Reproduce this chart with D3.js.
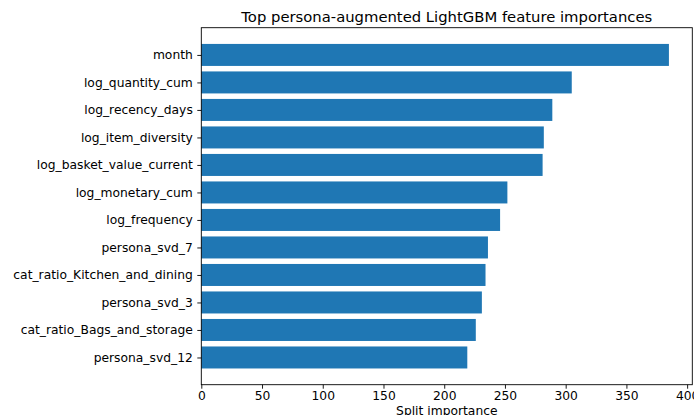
<!DOCTYPE html>
<html>
<head>
<meta charset="utf-8">
<script src="https://cdn.jsdelivr.net/npm/d3@7"></script>
<style>
  html, body { margin: 0; padding: 0; background: #fff; }
  svg { display: block; font-family: "DejaVu Sans", sans-serif; }
</style>
</head>
<body>
<svg id="chart" width="694" height="415"></svg>
<script>
// Feature names, from most to least important
const features = [
  "month",
  "log_quantity_cum",
  "log_recency_days",
  "log_item_diversity",
  "log_basket_value_current",
  "log_monetary_cum",
  "log_frequency",
  "persona_svd_7",
  "cat_ratio_Kitchen_and_dining",
  "persona_svd_3",
  "cat_ratio_Bags_and_storage",
  "persona_svd_12"
];
// Split importance per feature
const importance = [385, 305, 289, 282, 281, 252, 246, 236, 234, 231, 226, 219];
const xTicks = [0, 50, 100, 150, 200, 250, 300, 350, 400];

const svg = d3.select("#chart");
const W = 694, H = 415;
const margin = { left: 201.3, right: W - 692.3, top: 27.7, bottom: H - 384.7 };
const x0 = margin.left, x1 = W - margin.right;
const y0 = margin.top, y1 = H - margin.bottom;
const tickFont = 12.3, titleFont = 14.8;

const xMax = d3.max(importance) * 1.05;
const x = d3.scaleLinear().domain([0, xMax]).range([x0, x1]);

// index 0 at top; bars occupy 0.8 of each unit, with 5% padding of the data span
const n = features.length;
const span = (n - 1) + 0.8;
const pad = span * 0.05;
const y = d3.scaleLinear().domain([-0.4 - pad, n - 1 + 0.4 + pad]).range([y0, y1]);

svg.append("g")
  .selectAll("rect")
  .data(features)
  .join("rect")
  .attr("x", x(0))
  .attr("y", (d, i) => y(i - 0.4))
  .attr("width", (d, i) => x(importance[i]) - x(0))
  .attr("height", (d, i) => y(i + 0.4) - y(i - 0.4))
  .attr("fill", "#1f77b4");

// frame
svg.append("rect")
  .attr("x", x0).attr("y", y0)
  .attr("width", x1 - x0).attr("height", y1 - y0)
  .attr("fill", "none").attr("stroke", "#000").attr("stroke-width", 0.9);

// x axis
const xAxis = d3.axisBottom(x).tickValues(xTicks).tickSize(4).tickPadding(3);
const gx = svg.append("g").attr("transform", `translate(0,${y1})`).call(xAxis);
gx.select(".domain").remove();
gx.selectAll("text").attr("font-size", tickFont).attr("font-family", "DejaVu Sans").attr("fill", "#000");
gx.selectAll("line").attr("stroke", "#000").attr("stroke-width", 0.9);

// y axis
const yAxis = d3.axisLeft(y).tickValues(d3.range(n)).tickFormat(i => features[i]).tickSize(4).tickPadding(4.5);
const gy = svg.append("g").attr("transform", `translate(${x0},0)`).call(yAxis);
gy.select(".domain").remove();
gy.selectAll("text").attr("font-size", tickFont).attr("font-family", "DejaVu Sans").attr("fill", "#000");
gy.selectAll("line").attr("stroke", "#000").attr("stroke-width", 0.9);

// title
svg.append("text")
  .attr("x", (x0 + x1) / 2).attr("y", 22)
  .attr("text-anchor", "middle")
  .attr("font-size", titleFont)
  .attr("fill", "#000")
  .text("Top persona-augmented LightGBM feature importances");

// x label
svg.append("text")
  .attr("x", (x0 + x1) / 2).attr("y", 414.5)
  .attr("text-anchor", "middle")
  .attr("font-size", tickFont)
  .attr("fill", "#000")
  .text("Split importance");
</script>
</body>
</html>
